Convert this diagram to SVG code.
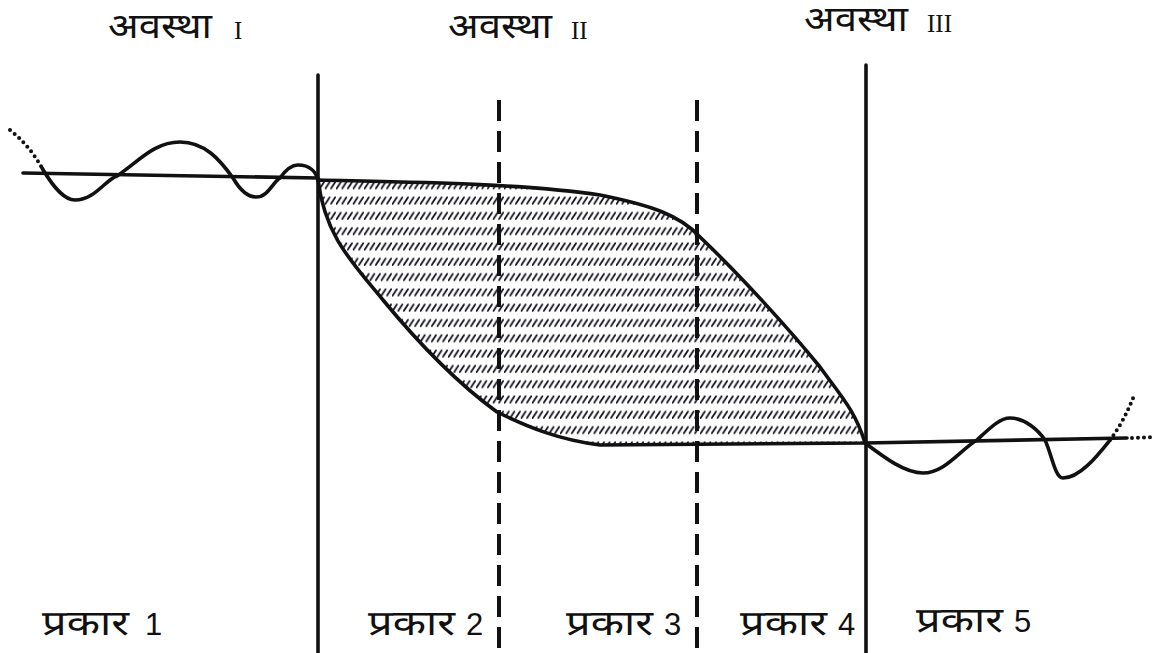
<svg xmlns="http://www.w3.org/2000/svg" width="1155" height="653" viewBox="0 0 1155 653">
<style>
.ln{fill:none;stroke:#111;stroke-width:3.6;stroke-linecap:round;stroke-linejoin:round}
.area{fill:url(#hatch);stroke:#111;stroke-width:3.6;stroke-linejoin:round}
.dash{fill:none;stroke:#111;stroke-width:4;stroke-dasharray:21 10}
.dot{fill:none;stroke:#111;stroke-width:4;stroke-linecap:round;stroke-dasharray:0 6}
.t{font-family:"Noto Sans Devanagari","Noto Sans","Lohit Devanagari",sans-serif;font-size:35px;fill:#111}
.r{font-family:"Liberation Serif",serif;font-size:25px;fill:#111}
.n{font-family:"Liberation Sans",Arial,sans-serif;font-size:31px;fill:#111}
</style>
<defs>
<pattern id="hatch" patternUnits="userSpaceOnUse" x="0" y="178" width="5.6" height="15.3">
<line x1="0.6" y1="10.5" x2="4.8" y2="4" stroke="#141420" stroke-width="1.8" stroke-linecap="round"/>
</pattern>
</defs>
<rect width="1155" height="653" fill="#fff"/>
<g id="shaded">
<path d="M318,180 C400,182 520,183 600,195 C650,205 680,215 700,237 C740,275 790,330 820,367 C840,395 855,410 865,443 L600,445 C560,440 530,428 497,412 C460,385 420,345 383,300 C350,260 325,235 318,180 Z" class="area"/>
</g>
<g id="connectors">
<line x1="318" y1="75" x2="318" y2="653" class="ln"/>
<line x1="866" y1="65" x2="866" y2="653" class="ln"/>
<line x1="499" y1="100" x2="499" y2="653" class="dash"/>
<line x1="697" y1="100" x2="697" y2="653" class="dash"/>
<path d="M23,173 L318,178" class="ln"/>
<path d="M865,443 L1127,438" class="ln"/>
<path d="M1132,438 L1155,437" class="dot"/>
<path d="M42,168 C55,190 65,200 75,200 C95,200 105,180 117,176 C140,160 155,142 180,142 C205,142 220,160 233,178 C240,190 248,197 256,197 C268,197 272,183 280,178 C287,168 292,165 298,165 C310,165 316,172 318,180" class="ln"/>
<path d="M10,130 Q30,146 42,168" class="dot"/>
<path d="M865,443 C885,458 905,473 923,473 C945,473 960,450 977,440 C990,428 1000,418 1010,418 C1025,418 1038,430 1045,440 C1052,455 1055,478 1063,478 C1080,478 1098,455 1110,440" class="ln"/>
<path d="M1110,440 Q1125,420 1135,393" class="dot"/>
</g>
<g id="label-stage1">
<text x="108" y="38" class="t" textLength="104" lengthAdjust="spacingAndGlyphs">अवस्था</text>
<text x="234" y="39" class="r">I</text>
</g>
<g id="label-stage2">
<text x="448" y="38" class="t" textLength="104" lengthAdjust="spacingAndGlyphs">अवस्था</text>
<text x="571" y="39" class="r">II</text>
</g>
<g id="label-stage3">
<text x="804" y="31" class="t" textLength="104" lengthAdjust="spacingAndGlyphs">अवस्था</text>
<text x="927" y="32" class="r">III</text>
</g>
<g id="label-type1">
<text x="42" y="635" class="t" textLength="87" lengthAdjust="spacingAndGlyphs">प्रकार</text>
<text x="145" y="635" class="n">1</text>
</g>
<g id="label-type2">
<text x="368" y="635" class="t" textLength="87" lengthAdjust="spacingAndGlyphs">प्रकार</text>
<text x="466" y="635" class="n">2</text>
</g>
<g id="label-type3">
<text x="566" y="635" class="t" textLength="87" lengthAdjust="spacingAndGlyphs">प्रकार</text>
<text x="664" y="635" class="n">3</text>
</g>
<g id="label-type4">
<text x="740" y="635" class="t" textLength="87" lengthAdjust="spacingAndGlyphs">प्रकार</text>
<text x="838" y="635" class="n">4</text>
</g>
<g id="label-type5">
<text x="916" y="632" class="t" textLength="87" lengthAdjust="spacingAndGlyphs">प्रकार</text>
<text x="1014" y="632" class="n">5</text>
</g>
</svg>
